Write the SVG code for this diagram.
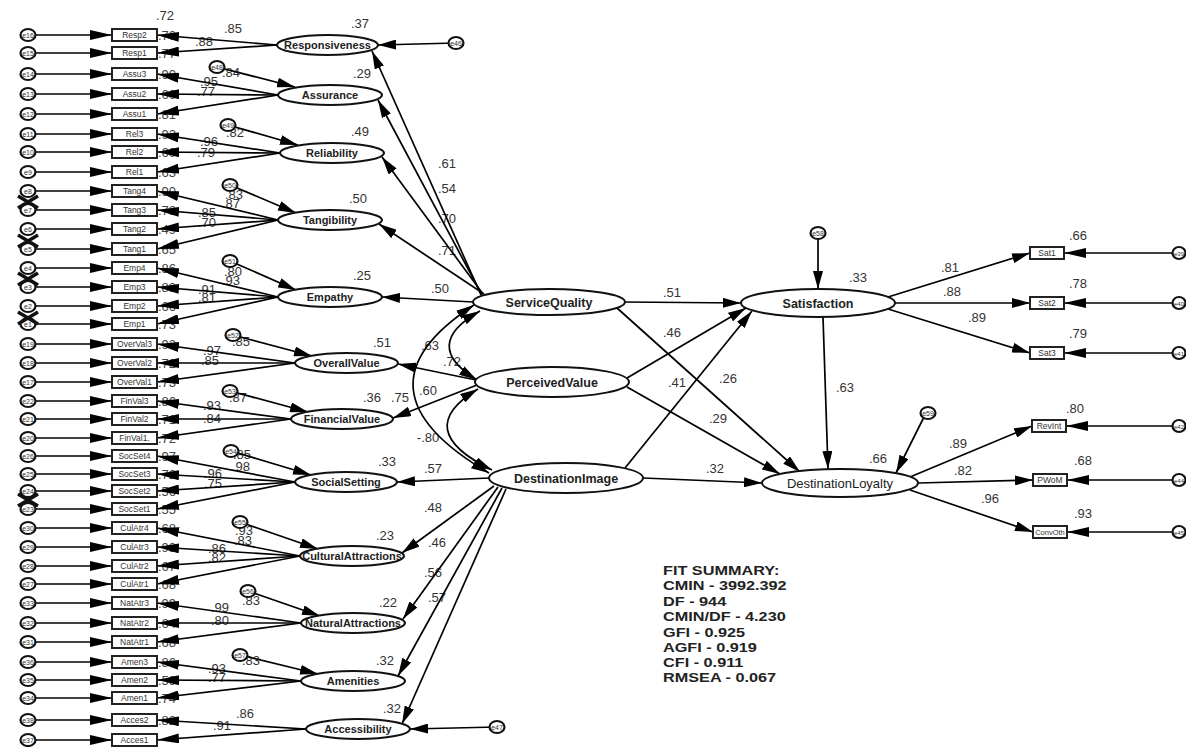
<svg xmlns="http://www.w3.org/2000/svg" width="1186" height="747" viewBox="0 0 1186 747">
<defs>
<marker id="ah" viewBox="0 0 18 10" refX="18" refY="5" markerWidth="18" markerHeight="10" markerUnits="userSpaceOnUse" orient="auto-start-reverse"><path d="M0,0L18,5L0,10z" fill="#000"/></marker>
<marker id="ahL" viewBox="0 0 22 10" refX="22" refY="5" markerWidth="22" markerHeight="10" markerUnits="userSpaceOnUse" orient="auto"><path d="M0,0L22,5L0,10z" fill="#000"/></marker>
</defs>
<style>
.box{fill:#fff;stroke:#222;stroke-width:2}
.lat{fill:#fff;stroke:#111;stroke-width:2}
.err{fill:#fff;stroke:#111;stroke-width:2.2}
.ind{font-family:"Liberation Sans",Arial,sans-serif;font-size:8.5px;fill:#333;text-anchor:middle}
.et{font-family:"Liberation Sans",Arial,sans-serif;font-size:7px;fill:#333;text-anchor:middle}
.ln{font-family:"Liberation Sans",Arial,sans-serif;font-size:11px;font-weight:bold;fill:#222;text-anchor:middle}
.lb{font-family:"Liberation Sans",Arial,sans-serif;font-size:12.5px;font-weight:bold;fill:#222;text-anchor:middle}
.num{font-family:"Liberation Sans",Arial,sans-serif;font-size:13px;fill:#333;text-anchor:middle}
.rn{font-family:"Liberation Sans",Arial,sans-serif;font-size:13px;fill:#444;text-anchor:start}
.a{stroke:#000;stroke-width:1.7;fill:none;marker-end:url(#ah)}
.aL{stroke:#000;stroke-width:1.7;fill:none;marker-end:url(#ahL)}
.d{stroke:#000;stroke-width:1.7;fill:none;marker-start:url(#ah);marker-end:url(#ah)}
.fit{font-family:"Liberation Sans",Arial,sans-serif;font-size:13px;font-weight:bold;fill:#222}
</style>
<rect width="1186" height="747" fill="#fff"/>

<g id="labels">
<text class="rn" x="158" y="40">.70</text>
<text class="rn" x="158" y="58">.77</text>
<text class="rn" x="158" y="79">.90</text>
<text class="rn" x="158" y="99">.60</text>
<text class="rn" x="158" y="119">.81</text>
<text class="rn" x="158" y="139">.92</text>
<text class="rn" x="158" y="157">.60</text>
<text class="rn" x="158" y="177">.63</text>
<text class="rn" x="158" y="196">.90</text>
<text class="rn" x="158" y="215">.73</text>
<text class="rn" x="158" y="234">.49</text>
<text class="rn" x="158" y="254">.65</text>
<text class="rn" x="158" y="273">.86</text>
<text class="rn" x="158" y="292">.83</text>
<text class="rn" x="158" y="311">.66</text>
<text class="rn" x="158" y="329">.73</text>
<text class="rn" x="158" y="349">.93</text>
<text class="rn" x="158" y="368">.72</text>
<text class="rn" x="158" y="387">.73</text>
<text class="rn" x="158" y="406">.86</text>
<text class="rn" x="158" y="424">.71</text>
<text class="rn" x="158" y="443">.72</text>
<text class="rn" x="158" y="461">.97</text>
<text class="rn" x="158" y="479">.72</text>
<text class="rn" x="158" y="496">.56</text>
<text class="rn" x="158" y="514">.55</text>
<text class="rn" x="158" y="533">.68</text>
<text class="rn" x="158" y="552">.93</text>
<text class="rn" x="158" y="571">.67</text>
<text class="rn" x="158" y="589">.68</text>
<text class="rn" x="158" y="608">.99</text>
<text class="rn" x="158" y="628">.64</text>
<text class="rn" x="158" y="647">.68</text>
<text class="rn" x="158" y="667">.86</text>
<text class="rn" x="158" y="685">.59</text>
<text class="rn" x="158" y="703">.74</text>
<text class="rn" x="158" y="725">.82</text>

<text class="num" x="165" y="20">.72</text>
<text class="num" x="233" y="33">.85</text>
<text class="num" x="204" y="46">.88</text>
<text class="num" x="360" y="28">.37</text>
<text class="num" x="231" y="77">.84</text>
<text class="num" x="209" y="86">.95</text>
<text class="num" x="206" y="96">.77</text>
<text class="num" x="362" y="78">.29</text>
<text class="num" x="235" y="137">.82</text>
<text class="num" x="209" y="146">.96</text>
<text class="num" x="206" y="157">.79</text>
<text class="num" x="360" y="136">.49</text>
<text class="num" x="234" y="199">.83</text>
<text class="num" x="231" y="208">.87</text>
<text class="num" x="207" y="217">.85</text>
<text class="num" x="207" y="227">.70</text>
<text class="num" x="358" y="203">.50</text>
<text class="num" x="233" y="276">.80</text>
<text class="num" x="231" y="285">.93</text>
<text class="num" x="207" y="294">.91</text>
<text class="num" x="207" y="302">.81</text>
<text class="num" x="362" y="280">.25</text>
<text class="num" x="241" y="346">.85</text>
<text class="num" x="212" y="355">.97</text>
<text class="num" x="210" y="365">.85</text>
<text class="num" x="382" y="347">.51</text>
<text class="num" x="238" y="402">.87</text>
<text class="num" x="212" y="410">.93</text>
<text class="num" x="212" y="423">.84</text>
<text class="num" x="372" y="402">.36</text>
<text class="num" x="400" y="402">.75</text>
<text class="num" x="242" y="459">.85</text>
<text class="num" x="241" y="471">.98</text>
<text class="num" x="213" y="478">.96</text>
<text class="num" x="213" y="488">.75</text>
<text class="num" x="387" y="466">.33</text>
<text class="num" x="244" y="535">.93</text>
<text class="num" x="243" y="545">.83</text>
<text class="num" x="217" y="553">.86</text>
<text class="num" x="217" y="562">.82</text>
<text class="num" x="385" y="540">.23</text>
<text class="num" x="251" y="605">.83</text>
<text class="num" x="220" y="612">.99</text>
<text class="num" x="220" y="625">.80</text>
<text class="num" x="388" y="607">.22</text>
<text class="num" x="251" y="665">.83</text>
<text class="num" x="217" y="673">.93</text>
<text class="num" x="217" y="682">.77</text>
<text class="num" x="385" y="665">.32</text>
<text class="num" x="245" y="718">.86</text>
<text class="num" x="222" y="730">.91</text>
<text class="num" x="392" y="713">.32</text>

<text class="num" x="447" y="168">.61</text>
<text class="num" x="447" y="193">.54</text>
<text class="num" x="447" y="223">.70</text>
<text class="num" x="447" y="255">.71</text>
<text class="num" x="440" y="293">.50</text>
<text class="num" x="430" y="350">.63</text>
<text class="num" x="452" y="366">.72</text>
<text class="num" x="428" y="395">.60</text>
<text class="num" x="428" y="442">-.80</text>
<text class="num" x="433" y="473">.57</text>
<text class="num" x="433" y="512">.48</text>
<text class="num" x="437" y="547">.46</text>
<text class="num" x="433" y="577">.56</text>
<text class="num" x="437" y="602">.57</text>

<text class="num" x="672" y="297">.51</text>
<text class="num" x="672" y="337">.46</text>
<text class="num" x="677" y="387">.41</text>
<text class="num" x="728" y="383">.26</text>
<text class="num" x="718" y="423">.29</text>
<text class="num" x="715" y="473">.32</text>
<text class="num" x="845" y="392">.63</text>
<text class="num" x="858" y="282">.33</text>
<text class="num" x="878" y="463">.66</text>
<text class="num" x="950" y="272">.81</text>
<text class="num" x="952" y="296">.88</text>
<text class="num" x="977" y="322">.89</text>
<text class="num" x="1078" y="240">.66</text>
<text class="num" x="1078" y="288">.78</text>
<text class="num" x="1078" y="338">.79</text>
<text class="num" x="958" y="448">.89</text>
<text class="num" x="963" y="475">.82</text>
<text class="num" x="990" y="503">.96</text>
<text class="num" x="1075" y="413">.80</text>
<text class="num" x="1083" y="465">.68</text>
<text class="num" x="1083" y="518">.93</text>
</g>

<g id="connectors">
<line class="aL" x1="28" y1="35" x2="112" y2="35"/>
<line class="aL" x1="28" y1="53" x2="112" y2="53"/>
<line class="aL" x1="28" y1="74" x2="112" y2="74"/>
<line class="aL" x1="28" y1="94" x2="112" y2="94"/>
<line class="aL" x1="28" y1="114" x2="112" y2="114"/>
<line class="aL" x1="28" y1="134" x2="112" y2="134"/>
<line class="aL" x1="28" y1="152" x2="112" y2="152"/>
<line class="aL" x1="28" y1="172" x2="112" y2="172"/>
<line class="aL" x1="28" y1="191" x2="112" y2="191"/>
<line class="aL" x1="28" y1="210" x2="112" y2="210"/>
<line class="aL" x1="28" y1="229" x2="112" y2="229"/>
<line class="aL" x1="28" y1="249" x2="112" y2="249"/>
<line class="aL" x1="28" y1="268" x2="112" y2="268"/>
<line class="aL" x1="28" y1="287" x2="112" y2="287"/>
<line class="aL" x1="28" y1="306" x2="112" y2="306"/>
<line class="aL" x1="28" y1="324" x2="112" y2="324"/>
<line class="aL" x1="28" y1="344" x2="112" y2="344"/>
<line class="aL" x1="28" y1="363" x2="112" y2="363"/>
<line class="aL" x1="28" y1="382" x2="112" y2="382"/>
<line class="aL" x1="28" y1="401" x2="112" y2="401"/>
<line class="aL" x1="28" y1="419" x2="112" y2="419"/>
<line class="aL" x1="28" y1="438" x2="112" y2="438"/>
<line class="aL" x1="28" y1="456" x2="112" y2="456"/>
<line class="aL" x1="28" y1="474" x2="112" y2="474"/>
<line class="aL" x1="28" y1="491" x2="112" y2="491"/>
<line class="aL" x1="28" y1="509" x2="112" y2="509"/>
<line class="aL" x1="28" y1="528" x2="112" y2="528"/>
<line class="aL" x1="28" y1="547" x2="112" y2="547"/>
<line class="aL" x1="28" y1="566" x2="112" y2="566"/>
<line class="aL" x1="28" y1="584" x2="112" y2="584"/>
<line class="aL" x1="28" y1="603" x2="112" y2="603"/>
<line class="aL" x1="28" y1="623" x2="112" y2="623"/>
<line class="aL" x1="28" y1="642" x2="112" y2="642"/>
<line class="aL" x1="28" y1="662" x2="112" y2="662"/>
<line class="aL" x1="28" y1="680" x2="112" y2="680"/>
<line class="aL" x1="28" y1="698" x2="112" y2="698"/>
<line class="aL" x1="28" y1="720" x2="112" y2="720"/>
<line class="aL" x1="28" y1="740" x2="112" y2="740"/>
<line class="aL" x1="277" y1="45" x2="157" y2="35"/>
<line class="aL" x1="277" y1="45" x2="157" y2="53"/>
<line class="aL" x1="278" y1="95" x2="157" y2="74"/>
<line class="aL" x1="278" y1="95" x2="157" y2="94"/>
<line class="aL" x1="278" y1="95" x2="157" y2="114"/>
<line class="aL" x1="280" y1="153" x2="157" y2="134"/>
<line class="aL" x1="280" y1="153" x2="157" y2="152"/>
<line class="aL" x1="280" y1="153" x2="157" y2="172"/>
<line class="aL" x1="278" y1="220" x2="157" y2="191"/>
<line class="aL" x1="278" y1="220" x2="157" y2="210"/>
<line class="aL" x1="278" y1="220" x2="157" y2="229"/>
<line class="aL" x1="278" y1="220" x2="157" y2="249"/>
<line class="aL" x1="278" y1="297" x2="157" y2="268"/>
<line class="aL" x1="278" y1="297" x2="157" y2="287"/>
<line class="aL" x1="278" y1="297" x2="157" y2="306"/>
<line class="aL" x1="278" y1="297" x2="157" y2="324"/>
<line class="aL" x1="295" y1="363" x2="157" y2="344"/>
<line class="aL" x1="295" y1="363" x2="157" y2="363"/>
<line class="aL" x1="295" y1="363" x2="157" y2="382"/>
<line class="aL" x1="291" y1="419" x2="157" y2="401"/>
<line class="aL" x1="291" y1="419" x2="157" y2="419"/>
<line class="aL" x1="291" y1="419" x2="157" y2="438"/>
<line class="aL" x1="295" y1="482" x2="157" y2="456"/>
<line class="aL" x1="295" y1="482" x2="157" y2="474"/>
<line class="aL" x1="295" y1="482" x2="157" y2="491"/>
<line class="aL" x1="295" y1="482" x2="157" y2="509"/>
<line class="aL" x1="300" y1="556" x2="157" y2="528"/>
<line class="aL" x1="300" y1="556" x2="157" y2="547"/>
<line class="aL" x1="300" y1="556" x2="157" y2="566"/>
<line class="aL" x1="300" y1="556" x2="157" y2="584"/>
<line class="aL" x1="301" y1="623" x2="157" y2="603"/>
<line class="aL" x1="301" y1="623" x2="157" y2="623"/>
<line class="aL" x1="301" y1="623" x2="157" y2="642"/>
<line class="aL" x1="301" y1="681" x2="157" y2="662"/>
<line class="aL" x1="301" y1="681" x2="157" y2="680"/>
<line class="aL" x1="301" y1="681" x2="157" y2="698"/>
<line class="aL" x1="306" y1="729" x2="157" y2="720"/>
<line class="aL" x1="306" y1="729" x2="157" y2="740"/>
<line class="a" x1="217" y1="67" x2="295" y2="87"/>
<line class="a" x1="228" y1="125" x2="298" y2="145"/>
<line class="a" x1="230" y1="185" x2="296" y2="213"/>
<line class="a" x1="230" y1="261" x2="296" y2="290"/>
<line class="a" x1="233" y1="335" x2="312" y2="356"/>
<line class="a" x1="230" y1="391" x2="308" y2="412"/>
<line class="a" x1="231" y1="451" x2="311" y2="475"/>
<line class="a" x1="240" y1="522" x2="318" y2="549"/>
<line class="a" x1="248" y1="591" x2="320" y2="616"/>
<line class="a" x1="240" y1="655" x2="318" y2="674"/>
<line class="a" x1="456" y1="43" x2="378" y2="45"/>
<line class="a" x1="497" y1="727" x2="410" y2="729"/>
<line class="a" x1="481" y1="295" x2="372" y2="51"/>
<line class="a" x1="482" y1="295" x2="378" y2="100"/>
<line class="a" x1="483" y1="294" x2="382" y2="157"/>
<line class="a" x1="484" y1="294" x2="379" y2="224"/>
<line class="a" x1="473" y1="302" x2="382" y2="297"/>
<line class="a" x1="476" y1="380" x2="398" y2="364"/>
<line class="a" x1="477" y1="385" x2="393" y2="418"/>
<line class="a" x1="489" y1="478" x2="397" y2="482"/>
<line class="a" x1="494" y1="486" x2="402" y2="553"/>
<line class="a" x1="498" y1="487" x2="403" y2="619"/>
<line class="a" x1="502" y1="488" x2="398" y2="676"/>
<line class="a" x1="506" y1="489" x2="402" y2="724"/>
<path class="d" d="M474,305 Q345,389 489,473"/>
<path class="d" d="M480,311 Q420,345 477,380"/>
<path class="d" d="M478,389 Q410,430 492,470"/>
<line class="a" x1="625" y1="302" x2="741" y2="303"/>
<line class="a" x1="617" y1="308" x2="800" y2="472"/>
<line class="a" x1="627" y1="378" x2="746" y2="308"/>
<line class="a" x1="627" y1="387" x2="780" y2="474"/>
<line class="a" x1="625" y1="468" x2="752" y2="311"/>
<line class="a" x1="643" y1="478" x2="762" y2="483"/>
<line class="a" x1="823" y1="317" x2="828" y2="469"/>
<line class="a" x1="818" y1="233" x2="818" y2="289"/>
<line class="a" x1="926" y1="413" x2="896" y2="473"/>
<line class="a" x1="888" y1="297" x2="1030" y2="253"/>
<line class="a" x1="895" y1="303" x2="1030" y2="303"/>
<line class="a" x1="888" y1="309" x2="1030" y2="353"/>
<line class="a" x1="910" y1="477" x2="1032" y2="426"/>
<line class="a" x1="918" y1="483" x2="1033" y2="480"/>
<line class="a" x1="910" y1="490" x2="1033" y2="532"/>
<line class="aL" x1="1179" y1="253" x2="1064" y2="253"/>
<line class="aL" x1="1179" y1="303" x2="1064" y2="303"/>
<line class="aL" x1="1179" y1="353" x2="1064" y2="353"/>
<line class="aL" x1="1179" y1="426" x2="1066" y2="426"/>
<line class="aL" x1="1179" y1="480" x2="1067" y2="480"/>
<line class="aL" x1="1179" y1="532" x2="1067" y2="532"/>
</g>

<g id="indicators">
<g id="n-Resp2"><rect class="box" x="112" y="29" width="45" height="12"/><text class="ind" x="134.5" y="38">Resp2</text></g>
<g id="n-Resp1"><rect class="box" x="112" y="47" width="45" height="12"/><text class="ind" x="134.5" y="56">Resp1</text></g>
<g id="n-Assu3"><rect class="box" x="112" y="68" width="45" height="12"/><text class="ind" x="134.5" y="77">Assu3</text></g>
<g id="n-Assu2"><rect class="box" x="112" y="88" width="45" height="12"/><text class="ind" x="134.5" y="97">Assu2</text></g>
<g id="n-Assu1"><rect class="box" x="112" y="108" width="45" height="12"/><text class="ind" x="134.5" y="117">Assu1</text></g>
<g id="n-Rel3"><rect class="box" x="112" y="128" width="45" height="12"/><text class="ind" x="134.5" y="137">Rel3</text></g>
<g id="n-Rel2"><rect class="box" x="112" y="146" width="45" height="12"/><text class="ind" x="134.5" y="155">Rel2</text></g>
<g id="n-Rel1"><rect class="box" x="112" y="166" width="45" height="12"/><text class="ind" x="134.5" y="175">Rel1</text></g>
<g id="n-Tang4"><rect class="box" x="112" y="185" width="45" height="12"/><text class="ind" x="134.5" y="194">Tang4</text></g>
<g id="n-Tang3"><rect class="box" x="112" y="204" width="45" height="12"/><text class="ind" x="134.5" y="213">Tang3</text></g>
<g id="n-Tang2"><rect class="box" x="112" y="223" width="45" height="12"/><text class="ind" x="134.5" y="232">Tang2</text></g>
<g id="n-Tang1"><rect class="box" x="112" y="243" width="45" height="12"/><text class="ind" x="134.5" y="252">Tang1</text></g>
<g id="n-Emp4"><rect class="box" x="112" y="262" width="45" height="12"/><text class="ind" x="134.5" y="271">Emp4</text></g>
<g id="n-Emp3"><rect class="box" x="112" y="281" width="45" height="12"/><text class="ind" x="134.5" y="290">Emp3</text></g>
<g id="n-Emp2"><rect class="box" x="112" y="300" width="45" height="12"/><text class="ind" x="134.5" y="309">Emp2</text></g>
<g id="n-Emp1"><rect class="box" x="112" y="318" width="45" height="12"/><text class="ind" x="134.5" y="327">Emp1</text></g>
<g id="n-OverVal3"><rect class="box" x="112" y="338" width="45" height="12"/><text class="ind" x="134.5" y="347">OverVal3</text></g>
<g id="n-OverVal2"><rect class="box" x="112" y="357" width="45" height="12"/><text class="ind" x="134.5" y="366">OverVal2</text></g>
<g id="n-OverVal1"><rect class="box" x="112" y="376" width="45" height="12"/><text class="ind" x="134.5" y="385">OverVal1</text></g>
<g id="n-FinVal3"><rect class="box" x="112" y="395" width="45" height="12"/><text class="ind" x="134.5" y="404">FinVal3</text></g>
<g id="n-FinVal2"><rect class="box" x="112" y="413" width="45" height="12"/><text class="ind" x="134.5" y="422">FinVal2</text></g>
<g id="n-FinVal1"><rect class="box" x="112" y="432" width="45" height="12"/><text class="ind" x="134.5" y="441">FinVal1.</text></g>
<g id="n-SocSet4"><rect class="box" x="112" y="450" width="45" height="12"/><text class="ind" x="134.5" y="459">SocSet4</text></g>
<g id="n-SocSet3"><rect class="box" x="112" y="468" width="45" height="12"/><text class="ind" x="134.5" y="477">SocSet3</text></g>
<g id="n-SocSet2"><rect class="box" x="112" y="485" width="45" height="12"/><text class="ind" x="134.5" y="494">SocSet2</text></g>
<g id="n-SocSet1"><rect class="box" x="112" y="503" width="45" height="12"/><text class="ind" x="134.5" y="512">SocSet1</text></g>
<g id="n-CulAtr4"><rect class="box" x="112" y="522" width="45" height="12"/><text class="ind" x="134.5" y="531">CulAtr4</text></g>
<g id="n-CulAtr3"><rect class="box" x="112" y="541" width="45" height="12"/><text class="ind" x="134.5" y="550">CulAtr3</text></g>
<g id="n-CulAtr2"><rect class="box" x="112" y="560" width="45" height="12"/><text class="ind" x="134.5" y="569">CulAtr2</text></g>
<g id="n-CulAtr1"><rect class="box" x="112" y="578" width="45" height="12"/><text class="ind" x="134.5" y="587">CulAtr1</text></g>
<g id="n-NatAtr3"><rect class="box" x="112" y="597" width="45" height="12"/><text class="ind" x="134.5" y="606">NatAtr3</text></g>
<g id="n-NatAtr2"><rect class="box" x="112" y="617" width="45" height="12"/><text class="ind" x="134.5" y="626">NatAtr2</text></g>
<g id="n-NatAtr1"><rect class="box" x="112" y="636" width="45" height="12"/><text class="ind" x="134.5" y="645">NatAtr1</text></g>
<g id="n-Amen3"><rect class="box" x="112" y="656" width="45" height="12"/><text class="ind" x="134.5" y="665">Amen3</text></g>
<g id="n-Amen2"><rect class="box" x="112" y="674" width="45" height="12"/><text class="ind" x="134.5" y="683">Amen2</text></g>
<g id="n-Amen1"><rect class="box" x="112" y="692" width="45" height="12"/><text class="ind" x="134.5" y="701">Amen1</text></g>
<g id="n-Acces2"><rect class="box" x="112" y="714" width="45" height="12"/><text class="ind" x="134.5" y="723">Acces2</text></g>
<g id="n-Acces1"><rect class="box" x="112" y="734" width="45" height="12"/><text class="ind" x="134.5" y="743">Acces1</text></g>

<g id="n-Sat1"><rect class="box" x="1030" y="247" width="34" height="12"/><text class="ind" x="1047" y="256">Sat1</text></g>
<g id="n-Sat2"><rect class="box" x="1030" y="297" width="34" height="12"/><text class="ind" x="1047" y="306">Sat2</text></g>
<g id="n-Sat3"><rect class="box" x="1030" y="347" width="34" height="12"/><text class="ind" x="1047" y="356">Sat3</text></g>
<g id="n-RevInt"><rect class="box" x="1032" y="420" width="34" height="12"/><text class="ind" x="1049" y="429">RevInt</text></g>
<g id="n-PWoM"><rect class="box" x="1033" y="474" width="34" height="12"/><text class="ind" x="1050" y="483">PWoM</text></g>
<g id="n-ConvOth"><rect class="box" x="1033" y="526" width="34" height="12"/><text class="ind" x="1050" y="535" style="font-size:7.5px">ConvOth</text></g>
</g>

<g id="errors">
<g id="n-e16"><ellipse class="err" cx="28" cy="35" rx="7.5" ry="6"/><text class="et" x="28" y="37.5">e16</text></g>
<g id="n-e15"><ellipse class="err" cx="28" cy="53" rx="7.5" ry="6"/><text class="et" x="28" y="55.5">e15</text></g>
<g id="n-e14"><ellipse class="err" cx="28" cy="74" rx="7.5" ry="6"/><text class="et" x="28" y="76.5">e14</text></g>
<g id="n-e13"><ellipse class="err" cx="28" cy="94" rx="7.5" ry="6"/><text class="et" x="28" y="96.5">e13</text></g>
<g id="n-e12"><ellipse class="err" cx="28" cy="114" rx="7.5" ry="6"/><text class="et" x="28" y="116.5">e12</text></g>
<g id="n-e11"><ellipse class="err" cx="28" cy="134" rx="7.5" ry="6"/><text class="et" x="28" y="136.5">e11</text></g>
<g id="n-e10"><ellipse class="err" cx="28" cy="152" rx="7.5" ry="6"/><text class="et" x="28" y="154.5">e10</text></g>
<g id="n-e9"><ellipse class="err" cx="28" cy="172" rx="7.5" ry="6"/><text class="et" x="28" y="174.5">e9</text></g>
<g id="n-e8"><ellipse class="err" cx="28" cy="191" rx="7.5" ry="6"/><text class="et" x="28" y="193.5">e8</text></g>
<g id="n-e7"><ellipse class="err" cx="28" cy="210" rx="7.5" ry="6"/><text class="et" x="28" y="212.5">e7</text></g>
<g id="n-e6"><ellipse class="err" cx="28" cy="229" rx="7.5" ry="6"/><text class="et" x="28" y="231.5">e6</text></g>
<g id="n-e5"><ellipse class="err" cx="28" cy="249" rx="7.5" ry="6"/><text class="et" x="28" y="251.5">e5</text></g>
<g id="n-e4"><ellipse class="err" cx="28" cy="268" rx="7.5" ry="6"/><text class="et" x="28" y="270.5">e4</text></g>
<g id="n-e3"><ellipse class="err" cx="28" cy="287" rx="7.5" ry="6"/><text class="et" x="28" y="289.5">e3</text></g>
<g id="n-e2"><ellipse class="err" cx="28" cy="306" rx="7.5" ry="6"/><text class="et" x="28" y="308.5">e2</text></g>
<g id="n-e1"><ellipse class="err" cx="28" cy="324" rx="7.5" ry="6"/><text class="et" x="28" y="326.5">e1</text></g>
<g id="n-e19"><ellipse class="err" cx="28" cy="344" rx="7.5" ry="6"/><text class="et" x="28" y="346.5">e19</text></g>
<g id="n-e18"><ellipse class="err" cx="28" cy="363" rx="7.5" ry="6"/><text class="et" x="28" y="365.5">e18</text></g>
<g id="n-e17"><ellipse class="err" cx="28" cy="382" rx="7.5" ry="6"/><text class="et" x="28" y="384.5">e17</text></g>
<g id="n-e22"><ellipse class="err" cx="28" cy="401" rx="7.5" ry="6"/><text class="et" x="28" y="403.5">e22</text></g>
<g id="n-e21"><ellipse class="err" cx="28" cy="419" rx="7.5" ry="6"/><text class="et" x="28" y="421.5">e21</text></g>
<g id="n-e20"><ellipse class="err" cx="28" cy="438" rx="7.5" ry="6"/><text class="et" x="28" y="440.5">e20</text></g>
<g id="n-e26"><ellipse class="err" cx="28" cy="456" rx="7.5" ry="6"/><text class="et" x="28" y="458.5">e26</text></g>
<g id="n-e25"><ellipse class="err" cx="28" cy="474" rx="7.5" ry="6"/><text class="et" x="28" y="476.5">e25</text></g>
<g id="n-e24"><ellipse class="err" cx="28" cy="491" rx="7.5" ry="6"/><text class="et" x="28" y="493.5">e24</text></g>
<g id="n-e23"><ellipse class="err" cx="28" cy="509" rx="7.5" ry="6"/><text class="et" x="28" y="511.5">e23</text></g>
<g id="n-e30"><ellipse class="err" cx="28" cy="528" rx="7.5" ry="6"/><text class="et" x="28" y="530.5">e30</text></g>
<g id="n-e29"><ellipse class="err" cx="28" cy="547" rx="7.5" ry="6"/><text class="et" x="28" y="549.5">e29</text></g>
<g id="n-e28"><ellipse class="err" cx="28" cy="566" rx="7.5" ry="6"/><text class="et" x="28" y="568.5">e28</text></g>
<g id="n-e27"><ellipse class="err" cx="28" cy="584" rx="7.5" ry="6"/><text class="et" x="28" y="586.5">e27</text></g>
<g id="n-e33"><ellipse class="err" cx="28" cy="603" rx="7.5" ry="6"/><text class="et" x="28" y="605.5">e33</text></g>
<g id="n-e32"><ellipse class="err" cx="28" cy="623" rx="7.5" ry="6"/><text class="et" x="28" y="625.5">e32</text></g>
<g id="n-e31"><ellipse class="err" cx="28" cy="642" rx="7.5" ry="6"/><text class="et" x="28" y="644.5">e31</text></g>
<g id="n-e36"><ellipse class="err" cx="28" cy="662" rx="7.5" ry="6"/><text class="et" x="28" y="664.5">e36</text></g>
<g id="n-e35"><ellipse class="err" cx="28" cy="680" rx="7.5" ry="6"/><text class="et" x="28" y="682.5">e35</text></g>
<g id="n-e34"><ellipse class="err" cx="28" cy="698" rx="7.5" ry="6"/><text class="et" x="28" y="700.5">e34</text></g>
<g id="n-e38"><ellipse class="err" cx="28" cy="720" rx="7.5" ry="6"/><text class="et" x="28" y="722.5">e38</text></g>
<g id="n-e37"><ellipse class="err" cx="28" cy="740" rx="7.5" ry="6"/><text class="et" x="28" y="742.5">e37</text></g>

<g id="n-e48"><ellipse class="err" cx="217" cy="67" rx="7.5" ry="6"/><text class="et" x="217" y="69.5">e48</text></g>
<g id="n-e49"><ellipse class="err" cx="228" cy="125" rx="7.5" ry="6"/><text class="et" x="228" y="127.5">e49</text></g>
<g id="n-e50"><ellipse class="err" cx="230" cy="185" rx="7.5" ry="6"/><text class="et" x="230" y="187.5">e50</text></g>
<g id="n-e51"><ellipse class="err" cx="230" cy="261" rx="7.5" ry="6"/><text class="et" x="230" y="263.5">e51</text></g>
<g id="n-e52"><ellipse class="err" cx="233" cy="335" rx="7.5" ry="6"/><text class="et" x="233" y="337.5">e52</text></g>
<g id="n-e53"><ellipse class="err" cx="230" cy="391" rx="7.5" ry="6"/><text class="et" x="230" y="393.5">e53</text></g>
<g id="n-e54"><ellipse class="err" cx="231" cy="451" rx="7.5" ry="6"/><text class="et" x="231" y="453.5">e54</text></g>
<g id="n-e55"><ellipse class="err" cx="240" cy="522" rx="7.5" ry="6"/><text class="et" x="240" y="524.5">e55</text></g>
<g id="n-e56"><ellipse class="err" cx="248" cy="591" rx="7.5" ry="6"/><text class="et" x="248" y="593.5">e56</text></g>
<g id="n-e57"><ellipse class="err" cx="240" cy="655" rx="7.5" ry="6"/><text class="et" x="240" y="657.5">e57</text></g>
<g id="n-e46"><ellipse class="err" cx="456" cy="43" rx="7.5" ry="6"/><text class="et" x="456" y="45.5">e46</text></g>
<g id="n-e47"><ellipse class="err" cx="497" cy="727" rx="7.5" ry="6"/><text class="et" x="497" y="729.5">e47</text></g>
<g id="n-e58"><ellipse class="err" cx="818" cy="233" rx="7.5" ry="6"/><text class="et" x="818" y="235.5">e58</text></g>
<g id="n-e59"><ellipse class="err" cx="928" cy="413" rx="7.5" ry="6"/><text class="et" x="928" y="415.5">e59</text></g>

<g id="n-e39"><ellipse class="err" cx="1179" cy="253" rx="6.5" ry="6"/><text class="et" x="1179" y="255.5" style="font-size:6px">e39</text></g>
<g id="n-e40"><ellipse class="err" cx="1179" cy="303" rx="6.5" ry="6"/><text class="et" x="1179" y="305.5" style="font-size:6px">e40</text></g>
<g id="n-e41"><ellipse class="err" cx="1179" cy="353" rx="6.5" ry="6"/><text class="et" x="1179" y="355.5" style="font-size:6px">e41</text></g>
<g id="n-e42"><ellipse class="err" cx="1179" cy="426" rx="6.5" ry="6"/><text class="et" x="1179" y="428.5" style="font-size:6px">e42</text></g>
<g id="n-e44"><ellipse class="err" cx="1179" cy="480" rx="6.5" ry="6"/><text class="et" x="1179" y="482.5" style="font-size:6px">e44</text></g>
<g id="n-e45"><ellipse class="err" cx="1179" cy="532" rx="6.5" ry="6"/><text class="et" x="1179" y="534.5" style="font-size:6px">e45</text></g>

<g id="artifacts" stroke="#111" stroke-width="3.5" fill="none">
<path d="M18,196 L38,208 M38,196 L18,208"/>
<path d="M18,235 L38,247 M38,235 L18,247"/>
<path d="M18,273 L38,285 M38,273 L18,285"/>
<path d="M18,312 L38,324 M38,312 L18,324"/>
<path d="M18,494 L38,506 M38,494 L18,506"/>
</g>
</g>

<g id="latents">
<g id="n-Responsiveness"><ellipse class="lat" cx="327.5" cy="45" rx="50.5" ry="10"/><text class="ln" x="327.5" y="49">Responsiveness</text></g>
<g id="n-Assurance"><ellipse class="lat" cx="330" cy="95" rx="52" ry="10"/><text class="ln" x="330" y="99">Assurance</text></g>
<g id="n-Reliability"><ellipse class="lat" cx="332" cy="153" rx="52" ry="10"/><text class="ln" x="332" y="157">Reliability</text></g>
<g id="n-Tangibility"><ellipse class="lat" cx="330" cy="220" rx="52" ry="10"/><text class="ln" x="330" y="224">Tangibility</text></g>
<g id="n-Empathy"><ellipse class="lat" cx="330" cy="297" rx="52" ry="10"/><text class="ln" x="330" y="301">Empathy</text></g>
<g id="n-OverallValue"><ellipse class="lat" cx="346.5" cy="363" rx="51.5" ry="10"/><text class="ln" x="346.5" y="367">OverallValue</text></g>
<g id="n-FinancialValue"><ellipse class="lat" cx="342" cy="419" rx="51" ry="10"/><text class="ln" x="342" y="423">FinancialValue</text></g>
<g id="n-SocialSetting"><ellipse class="lat" cx="346" cy="482" rx="51" ry="10"/><text class="ln" x="346" y="486">SocialSetting</text></g>
<g id="n-CulturalAttractions"><ellipse class="lat" cx="352" cy="556" rx="52" ry="10"/><text class="ln" x="352" y="560">CulturalAttractions</text></g>
<g id="n-NaturalAttractions"><ellipse class="lat" cx="353" cy="623" rx="52" ry="10"/><text class="ln" x="353" y="627">NaturalAttractions</text></g>
<g id="n-Amenities"><ellipse class="lat" cx="353" cy="681" rx="52" ry="10"/><text class="ln" x="353" y="685">Amenities</text></g>
<g id="n-Accessibility"><ellipse class="lat" cx="358" cy="729" rx="52" ry="10"/><text class="ln" x="358" y="733">Accessibility</text></g>

<g id="n-ServiceQuality"><ellipse class="lat" cx="549" cy="302" rx="76" ry="13"/><text class="lb" x="549" y="306.5">ServiceQuality</text></g>
<g id="n-PerceivedValue"><ellipse class="lat" cx="552" cy="382" rx="77" ry="15"/><text class="lb" x="552" y="386.5">PerceivedValue</text></g>
<g id="n-DestinationImage"><ellipse class="lat" cx="566" cy="478" rx="77" ry="15"/><text class="lb" x="566" y="482.5">DestinationImage</text></g>
<g id="n-Satisfaction"><ellipse class="lat" cx="818" cy="303" rx="77" ry="14"/><text class="lb" x="818" y="307.5">Satisfaction</text></g>
<g id="n-DestinationLoyalty"><ellipse class="lat" cx="840" cy="483" rx="78" ry="14"/><text class="lb" style="font-weight:normal;font-size:13px" x="840" y="487.5">DestinationLoyalty</text></g>
</g>

<g id="fit-summary" transform="translate(663,0) scale(1.25,1)">
<text class="fit" x="0" y="575">FIT SUMMARY:</text>
<text class="fit" x="0" y="590.5">CMIN - 3992.392</text>
<text class="fit" x="0" y="606">DF - 944</text>
<text class="fit" x="0" y="621.5">CMIN/DF - 4.230</text>
<text class="fit" x="0" y="637">GFI - 0.925</text>
<text class="fit" x="0" y="652">AGFI - 0.919</text>
<text class="fit" x="0" y="667">CFI - 0.911</text>
<text class="fit" x="0" y="682">RMSEA - 0.067</text>
</g>
</svg>
